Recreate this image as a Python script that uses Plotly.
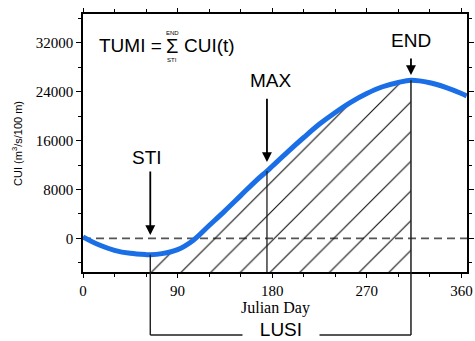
import plotly.graph_objects as go

# ---- data ----
day = [0, 15, 30, 45, 60, 64, 75, 90, 105, 120, 135, 150, 165, 175, 180, 195,
       210, 225, 240, 255, 270, 285, 300, 312, 330, 345, 360, 365]
cui = [250, -1050, -1950, -2450, -2660, -2680, -2500, -1850, -300, 2100, 4500,
       7000, 9500, 11000, 11800, 14200, 16500, 18700, 20600, 22300, 23700,
       24800, 25500, 25850, 25450, 24700, 23700, 23300]

x_ticks = [0, 90, 180, 270, 360]
y_ticks = [0, 8000, 16000, 24000, 32000]

STI_DAY = 64
MAX_DAY = 175
END_DAY = 312

X_RANGE = [0, 365.3]
Y_RANGE = [-5500, 36700]

val = dict(zip(day, cui))

BLUE = "#1b6fe6"
INK = "#1e1e1e"
SANS = "Liberation Sans, Arial, sans-serif"
SERIF = "Liberation Serif, Times New Roman, serif"

fig = go.Figure()

# hatched area between bottom axis and curve, from STI to END
seg_x = [d for d in day if STI_DAY <= d <= END_DAY]
seg_y = [val[d] for d in seg_x]
fig.add_trace(go.Scatter(x=seg_x, y=[Y_RANGE[0]] * len(seg_x), mode="lines",
                         line=dict(width=0), showlegend=False, hoverinfo="skip"))
fig.add_trace(go.Scatter(x=seg_x, y=seg_y, mode="lines", line=dict(width=0, shape="spline"),
                         fill="tonexty", fillcolor="rgba(255,255,255,0)",
                         fillpattern=dict(shape="/", size=21, solidity=0.055,
                                          fgcolor="#111111", fgopacity=1,
                                          bgcolor="rgba(255,255,255,0)"),
                         showlegend=False, hoverinfo="skip"))

# CUI curve
fig.add_trace(go.Scatter(x=day, y=cui, mode="lines",
                         line=dict(color=BLUE, width=5, shape="spline"),
                         showlegend=False))

axis_common = dict(showline=True, linecolor="black", linewidth=1.5, mirror="ticks",
                   ticks="outside", tickwidth=1.2, tickcolor="black",
                   showgrid=False, zeroline=False, automargin=False,
                   tickfont=dict(family=SERIF, size=15, color="black"))

fig.update_layout(
    width=475, height=341,
    margin=dict(l=83, r=8, t=14, b=69),
    plot_bgcolor="white", paper_bgcolor="white",
    xaxis=dict(range=X_RANGE, tickmode="array", tickvals=x_ticks, ticklen=4,
               ticktext=[str(v) for v in x_ticks],
               minor=dict(dtick=30, tick0=0, ticks="outside", ticklen=3, tickcolor="black"),
               **axis_common),
    yaxis=dict(range=Y_RANGE, tickmode="array", tickvals=y_ticks, ticklen=5,
               ticktext=[str(v) for v in y_ticks],
               minor=dict(dtick=4000, tick0=0, ticks="outside", ticklen=3, tickcolor="black"),
               **axis_common),
)

BR_Y = -0.244  # bracket level (paper units)
shapes = [
    dict(type="line", xref="x", yref="y", x0=X_RANGE[0], x1=X_RANGE[1], y0=0, y1=0,
         line=dict(color="#555555", width=1.6, dash="8px,5px"), layer="below"),
    dict(type="line", xref="x", yref="y", x0=STI_DAY, x1=STI_DAY, y0=val[STI_DAY], y1=Y_RANGE[0],
         line=dict(color=INK, width=1.4)),
    dict(type="line", xref="x", yref="paper", x0=STI_DAY, x1=STI_DAY, y0=0, y1=BR_Y,
         line=dict(color=INK, width=1.4)),
    dict(type="line", xref="x", yref="y", x0=END_DAY, x1=END_DAY, y0=val[END_DAY], y1=Y_RANGE[0],
         line=dict(color=INK, width=1.5)),
    dict(type="line", xref="x", yref="paper", x0=END_DAY, x1=END_DAY, y0=0, y1=BR_Y,
         line=dict(color=INK, width=1.5)),
    dict(type="line", xref="x", yref="y", x0=MAX_DAY, x1=MAX_DAY, y0=val[MAX_DAY], y1=Y_RANGE[0],
         line=dict(color=INK, width=1.3)),
    dict(type="line", xref="x", yref="paper", x0=STI_DAY, x1=END_DAY, y0=BR_Y, y1=BR_Y,
         line=dict(color=INK, width=1.5)),
]
fig.update_layout(shapes=shapes)

def arrow(x, tip, tail):
    return dict(x=x, y=tip, ax=x, ay=tail, xref="x", yref="y", axref="x", ayref="y",
                text="", showarrow=True, arrowhead=2, arrowsize=1.1, arrowwidth=1.8,
                arrowcolor="black", standoff=0, startstandoff=0)

def label(text, x, y, size=19, **kw):
    d = dict(x=x, y=y, xref="x", yref="y", text=text, showarrow=False,
             xanchor="center", yanchor="middle",
             font=dict(family=SANS, size=size, color="black"))
    d.update(kw)
    return d

annotations = [
    # LUSI (drawn first so other text sits on top)
    dict(x=0.5156, y=-0.222, xref="paper", yref="paper", showarrow=False,
         xanchor="center", yanchor="middle",
         text="&nbsp;&nbsp;&nbsp;LUSI&nbsp;&nbsp;&nbsp;", bgcolor="white",
         font=dict(family=SANS, size=19, color="black")),
    # axis titles
    dict(x=0.5, y=-0.141, xref="paper", yref="paper", showarrow=False, text="Julian Day",
         xanchor="center", yanchor="middle",
         font=dict(family=SERIF, size=16, color="black")),
    dict(x=-0.172, y=0.5, xref="paper", yref="paper", showarrow=False, textangle=-90,
         xanchor="center", yanchor="middle",
         text="CUI (m<sup>3</sup>/s/100 m)", font=dict(family=SANS, size=11, color="black")),
    # arrows
    arrow(STI_DAY, 540, 11170),
    arrow(MAX_DAY, 12480, 23100),
    arrow(END_DAY, 26710, 29660),
    # labels
    label("STI", 61, 13300),
    label("MAX", 179, 25900),
    label("END", 312, 32440),
    # TUMI equation
    label("TUMI =", 13, 31600, xanchor="left"),
    label("Σ", 84.7, 31400, size=20),
    label("END", 84.7, 33600, size=6),
    label("STI", 84.7, 29100, size=6),
    label("CUI(t)", 94.2, 31600, xanchor="left"),
]
fig.update_layout(annotations=annotations)

fig.write_html("out.html", config={"displayModeBar": False},
               post_script="document.body.style.margin='0';document.body.style.overflow='hidden';")
